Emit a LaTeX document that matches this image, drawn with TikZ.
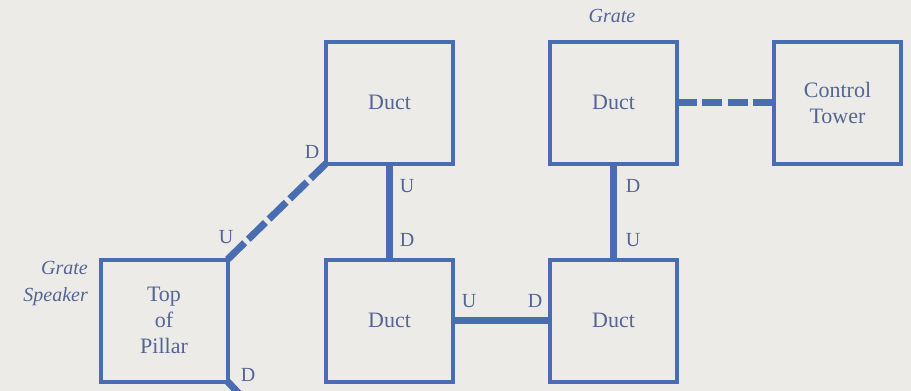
\documentclass[tikz,border=0pt]{standalone}
\usepackage{fontspec}
\setmainfont{Liberation Serif}

\definecolor{azul}{RGB}{74,108,176}
\definecolor{tinta}{RGB}{84,100,148}
\definecolor{papel}{RGB}{236,235,231}

\tikzset{
  caja/.style={draw=azul, line width=4pt, minimum width=127pt, minimum height=122pt,
    inner sep=0pt, outer sep=0pt, text=tinta, align=center,
    font=\fontsize{22}{26}\selectfont},
  enlace/.style={draw=azul, line width=7pt},
  trazos/.style={enlace, dash pattern=on 24pt off 5pt},
  letra/.style={text=tinta, inner sep=0pt, font=\fontsize{20}{24}\selectfont},
  nota/.style={letra, font=\fontsize{20}{27}\selectfont\itshape}
}

\begin{document}
\begin{tikzpicture}[x=1pt, y=-1pt]

% Fondo
\fill[papel] (0,0) rectangle (911,391);
\useasboundingbox (0,0) rectangle (911,391);

% Cajas
\node[caja] (pilar)  at (164,320.5)   {Top\\of\\Pillar};
\node[caja] (ductoA) at (389.5,102.5) {Duct};
\node[caja] (ductoB) at (389.5,320.5) {Duct};
\node[caja] (ductoC) at (613.5,320.5) {Duct};
\node[caja] (ductoD) at (613.5,102.5) {Duct};
\node[caja] (torre)  at (837.5,102.5) {Control\\Tower};

% Enlaces
\coordinate (salida) at (246,401);
\draw[trazos] (pilar.north east) -- (ductoA.south west);
\draw[enlace] (pilar.south east) -- (salida);
\draw[enlace] (ductoA.south) -- (ductoB.north);
\draw[enlace] (ductoB.east) -- (ductoC.west);
\draw[enlace] (ductoD.south) -- (ductoC.north);
\draw[enlace, dash pattern=on 20pt off 5.3pt] (ductoD.east) -- (torre.west);

% Letras U / D
\node[letra] (dA)  at (312,152) {D};
\node[letra] (uP)  at (226,237) {U};
\node[letra] (dP)  at (248,375) {D};
\node[letra] (uA)  at (407,186) {U};
\node[letra] (dB)  at (407,240) {D};
\node[letra] (uB)  at (469,301) {U};
\node[letra] (dC)  at (535,301) {D};
\node[letra] (dD)  at (633,186) {D};
\node[letra] (uC)  at (633,240) {U};

% Notas
\node[nota] (rejilla) at (612,16) {Grate};
\node[nota, anchor=east, align=right] (altavoz) at (88,284) {Grate\\Speaker};

\end{tikzpicture}
\end{document}
